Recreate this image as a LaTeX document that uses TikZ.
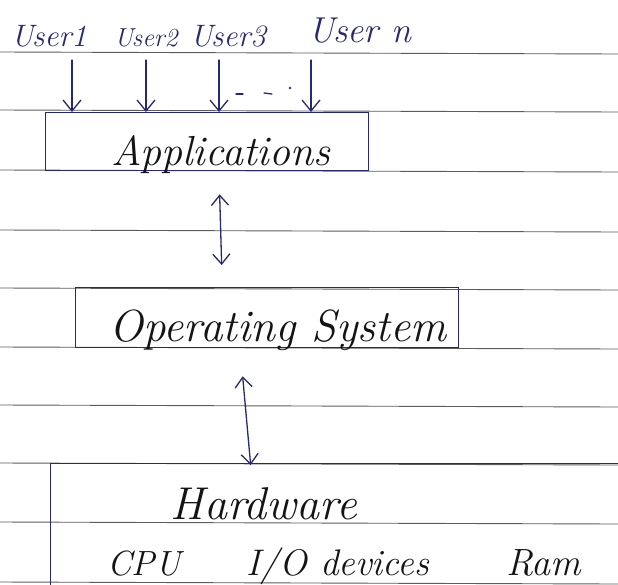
\documentclass[tikz,border=0pt]{standalone}
\usepackage{graphicx}
\usetikzlibrary{arrows.meta}
\definecolor{ink}{HTML}{28286E}
\definecolor{rulecol}{HTML}{5C5C5C}
\definecolor{pencil}{HTML}{141414}
\newcommand\handpt[1]{\fontsize{#1}{#1}\selectfont\itshape}
\tikzset{
  ruling/.style={draw=rulecol, line width=0.9pt},
  inkline/.style={draw=ink, line width=1.3pt, line cap=round},
  box/.style={draw=ink, line width=1.3pt, rectangle, inner sep=0pt},
  hand/.style={inner sep=0pt, anchor=base},
  userlabel/.style={hand, text=ink, font=\handpt{31}},
  title/.style={hand, text=pencil, font=\handpt{42}},
  part/.style={hand, text=pencil, font=\handpt{37}},
  down/.style={inkline, -{Straight Barb[length=11pt,width=18pt]}},
  both/.style={inkline, {Straight Barb[length=10pt,width=17pt]}-{Straight Barb[length=10pt,width=17pt]}},
}

\begin{document}
\begin{tikzpicture}[x=1pt,y=-1pt]
  \clip (0,0) rectangle (618,584);
  \fill[white] (0,0) rectangle (618,584);

  % ruled paper
  \foreach \y in {52,110,170,230,288,347,405,463,522,582}
    \draw[ruling] (0,\y) -- (618,\y+2);

  % users
  \node[userlabel] (u1) at (49,46) {User1};
  \node[userlabel, font=\handpt{26}] (u2) at (146,46) {User2};
  \node[userlabel] (u3) at (228,46) {User3};
  \node[userlabel, font=\handpt{36}] (un) at (360,42) {User n};

  % application layer
  \node[box, minimum width=323pt, minimum height=58pt, anchor=north west] (apps) at (45,112) {};
  \node[title] (appst) at (221,165) {Applications};

  % operating system layer
  \node[box, minimum width=383pt, minimum height=60pt, anchor=north west] (os) at (75,287) {};
  \node[title, font=\handpt{45}] (ost) at (278,341) {Operating System};

  % hardware layer (runs off the page)
  \node[box, minimum width=700pt, minimum height=300pt, anchor=north west] (hw) at (50,463) {};
  \node[title, font=\handpt{46}] (hwt) at (264,519) {Hardware};
  \node[part, font=\handpt{35}] (cpu) at (144,575) {CPU};
  \node[part] (io) at (338,575) {I/O devices};
  \node[part, font=\handpt{38}] (ram) at (544,575) {Ram};

  % user arrows into the applications
  \coordinate (a1) at (72,60);
  \coordinate (a2) at (146,60);
  \coordinate (a3) at (219,60);
  \coordinate (an) at (311,60);
  \foreach \c in {a1,a2,a3,an}
    \draw[down] (\c) -- (\c |- apps.north);

  % ellipsis between user 3 and user n
  \draw[inkline] (236,94) -- (243,94);
  \draw[inkline] (264,93) -- (272,94);
  \fill[ink] (290,88) circle (1.3pt);

  % two-way links between layers
  \draw[both] ([xshift=12.5pt,yshift=-23pt]apps.south) -- ([xshift=-45.5pt,yshift=22pt]os.north);
  \draw[both] ([xshift=-24.5pt,yshift=-28pt]os.south) -- ([xshift=-150pt,yshift=-2pt]hw.north);
\end{tikzpicture}
\end{document}
